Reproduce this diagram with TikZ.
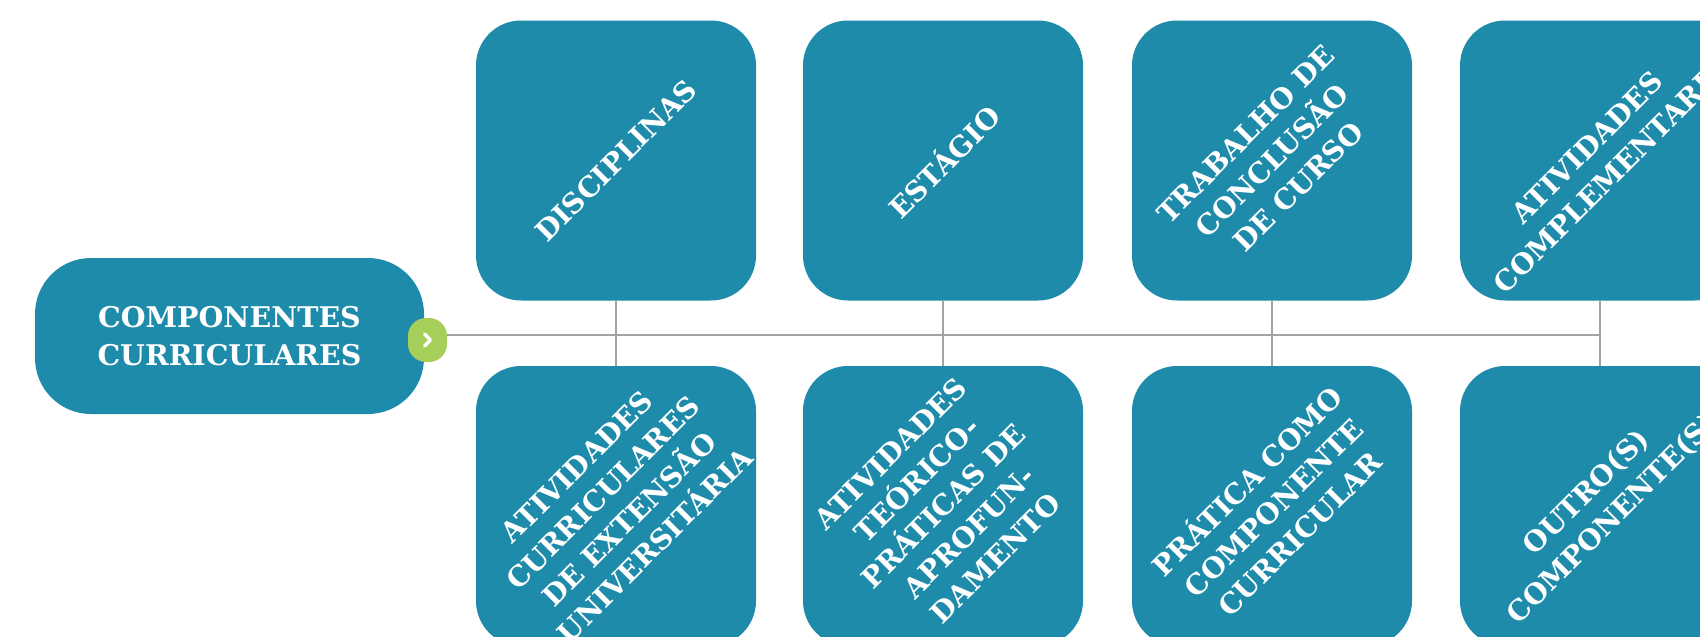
\documentclass[tikz,border=0pt]{standalone}
\usepackage{fontspec}
\setmainfont{DejaVu Serif}
\definecolor{boxblue}{HTML}{1E8BAA}
\definecolor{togglegreen}{HTML}{A6CF5A}
\definecolor{conngray}{HTML}{A3A3A3}
\begin{document}
\begin{tikzpicture}[x=1pt,y=-1pt,
  comp/.style={fill=boxblue,rounded corners=45pt,minimum width=280pt,minimum height=280pt,inner sep=0pt},
  label/.style={text=white,font=\fontsize{28}{37}\selectfont\bfseries,align=center,rotate=45,inner sep=0pt},
  conn/.style={draw=conngray,line width=2.6pt}]
\useasboundingbox (0,0) rectangle (1700,637);
\clip (0,0) rectangle (1700,637);
% main box
\node[fill=boxblue,rounded corners=56pt,minimum width=389pt,minimum height=156pt,inner sep=0pt,
      text=white,font=\fontsize{28.5}{38.5}\selectfont\bfseries,align=center] (main) at (229.5,336) {COMPONENTES\\CURRICULARES};
% boxes
\node[comp] (t1) at (616,160.5) {};
\node[comp] (t2) at (943,160.5) {};
\node[comp] (t3) at (1272,160.5) {};
\node[comp] (t4) at (1600,160.5) {};
\node[comp] (b1) at (616,506) {};
\node[comp] (b2) at (943,506) {};
\node[comp] (b3) at (1272,506) {};
\node[comp] (b4) at (1600,506) {};
% labels
\node[label] (lt1) at (t1) {DISCIPLINAS};
\node[label] (lt2) at (t2) {ESTÁGIO};
\node[label] (lt3) at (t3) {TRABALHO DE\\CONCLUSÃO\\DE CURSO};
\node[label] (lt4) at (t4) {ATIVIDADES\\COMPLEMENTARES};
\node[label] (lb1) at (b1) {ATIVIDADES\\CURRICULARES\\DE EXTENSÃO\\UNIVERSITÁRIA};
\node[label] (lb2) at (b2) {ATIVIDADES\\TEÓRICO-\\PRÁTICAS DE\\APROFUN-\\DAMENTO};
\node[label] (lb3) at (b3) {PRÁTICA COMO\\COMPONENTE\\CURRICULAR};
\node[label] (lb4) at (b4) {OUTRO(S)\\COMPONENTE(S)};
% connectors
\coordinate (trunk) at (447,335);
\draw[conn] (trunk) -- (trunk -| t4.south);
\draw[conn] (t1.south) -- (b1.north);
\draw[conn] (t2.south) -- (b2.north);
\draw[conn] (t3.south) -- (b3.north);
\draw[conn] (t4.south) -- (b4.north);
% toggle
\node[fill=togglegreen,rounded corners=18pt,minimum width=39pt,minimum height=44pt,inner sep=0pt] (toggle) at (427.5,340) {};
\draw[white,line width=3.5pt,line cap=round,line join=round]
  ([xshift=-3pt,yshift=6pt]toggle.center) -- ([xshift=3pt]toggle.center) -- ([xshift=-3pt,yshift=-6pt]toggle.center);
\end{tikzpicture}
\end{document}
